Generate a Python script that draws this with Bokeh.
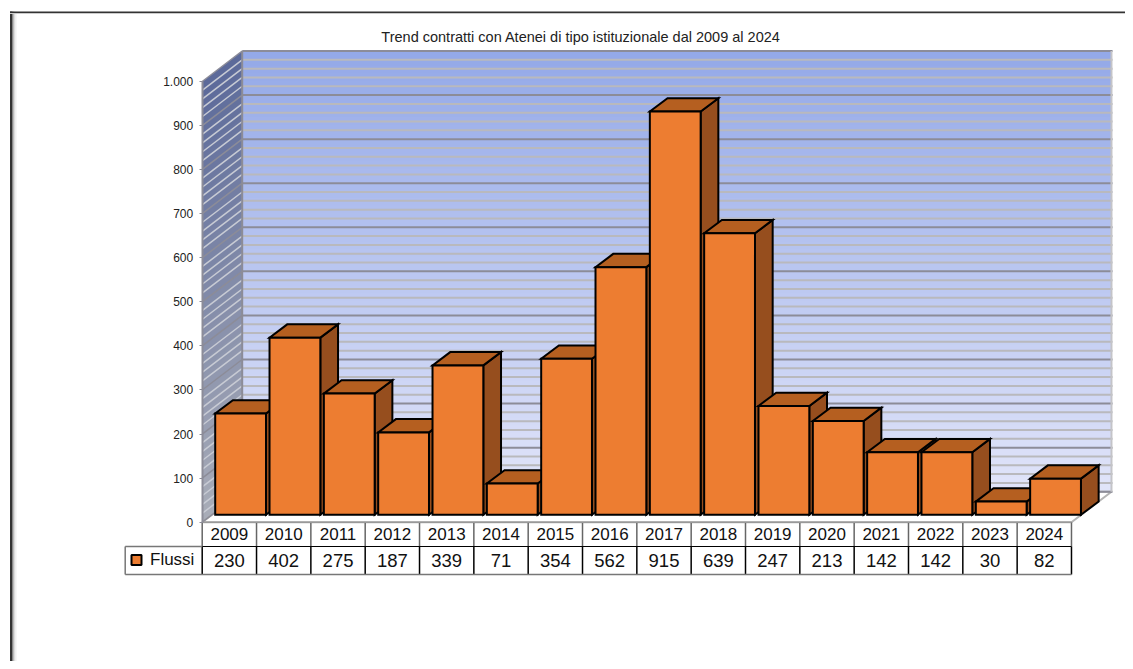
from bokeh.plotting import figure
from bokeh.models import Range1d, FixedTicker
from bokeh.core.properties import value
from bokeh.embed import file_html
from bokeh.resources import INLINE

TITLE = "Trend contratti con Atenei di tipo istituzionale dal 2009 al 2024"
YEARS = ["2009", "2010", "2011", "2012", "2013", "2014", "2015", "2016",
         "2017", "2018", "2019", "2020", "2021", "2022", "2023", "2024"]
FLUSSI = [230, 402, 275, 187, 339, 71, 354, 562, 915, 639, 247, 213, 142, 142, 30, 82]
SERIES_NAME = "Flussi"
Y_TICKS = [0, 100, 200, 300, 400, 500, 600, 700, 800, 900, 1000]
Y_LABELS = {0: "0", 100: "100", 200: "200", 300: "300", 400: "400", 500: "500",
            600: "600", 700: "700", 800: "800", 900: "900", 1000: "1.000"}
FONT = "Liberation Sans"

# pixel scale of the chart
X0, UX = 201.7, 54.33      # px of category 0, px per category
Y0, UY = 521.7, 0.4407     # px of value 0, px per value
W, H = 1125, 661


def rx(px):
    return (px - X0) / UX


def ry(py):
    return (Y0 - py) / UY


WALL_DX, WALL_DY = 40 / UX, 30.5 / UY
BAR_X, BAR_W = 13 / UX, 50.8 / UX
BAR_BASE = 7.4 / UY
BAR_DX, BAR_DY = 17.7 / UX, 13.3 / UY
N = len(YEARS)
YMAX = 1000


def mix(a, b, t):
    return "#%02x%02x%02x" % tuple(round(a[k] + (b[k] - a[k]) * t) for k in range(3))


p = figure(width=W, height=H, output_backend="svg", toolbar_location=None,
           x_range=Range1d(rx(0), rx(W)), y_range=Range1d(ry(H), ry(0)),
           min_border=0, min_border_left=0, min_border_right=0,
           min_border_top=0, min_border_bottom=0,
           background_fill_color="white", outline_line_color=None)
p.grid.visible = False
p.xaxis.visible = False

# page frame
for left, right, col in [(9.5, 11.5, "#333333"), (11.5, 12.5, "#888888"), (12.5, 13.5, "#bbbbbb"),
                         (13.5, 14.5, "#dddddd"), (14.5, 16, "#f0f0f0")]:
    p.quad(left=rx(left), right=rx(right), top=ry(11), bottom=ry(H), color=col, line_color=None)
for top, bottom, col in [(11, 12.5, "#333333"), (12.5, 13.5, "#cccccc")]:
    p.quad(left=rx(9.5), right=rx(W), top=ry(top), bottom=ry(bottom), color=col, line_color=None)

# back wall and side wall gradients
BANDS = 60
TOP_B, BOT_B = (0x94, 0xa9, 0xe8), (0xe0, 0xe4, 0xf9)
TOP_S, BOT_S = (0x5c, 0x6a, 0x9a), (0xa8, 0xac, 0xb8)
for k in range(BANDS):
    v0 = YMAX * k / BANDS
    v1 = YMAX * (k + 1.3) / BANDS
    v1 = min(v1, YMAX)
    t = k / (BANDS - 1)
    p.quad(left=WALL_DX, right=N + WALL_DX, bottom=v0 + WALL_DY, top=v1 + WALL_DY,
           color=mix(BOT_B, TOP_B, t), line_color=None)
    p.patch([0, WALL_DX, WALL_DX, 0], [v0, v0 + WALL_DY, v1 + WALL_DY, v1],
            color=mix(BOT_S, TOP_S, t), line_color=None)

# floor
p.patch([0, N, N + WALL_DX, WALL_DX], [0, 0, WALL_DY, WALL_DY],
        fill_color="white", line_color="#b4b4b4", line_width=2)

# grid lines
for v in range(0, YMAX + 1, 20):
    major = v % 100 == 0
    p.line([WALL_DX, N + WALL_DX + 0.02], [v + WALL_DY, v + WALL_DY],
           line_color="#8c8c98" if major else "#b9b9bd", line_width=2)
    p.line([0, WALL_DX], [v, v + WALL_DY],
           line_color="#8c8c98" if major else "#c8cbd4", line_width=1.5)

# wall edges
p.line([WALL_DX, WALL_DX], [WALL_DY, YMAX + WALL_DY], line_color="#8c8c98", line_width=2)
p.line([N + WALL_DX, N + WALL_DX], [WALL_DY, YMAX + WALL_DY], line_color="#c4c4c8", line_width=2)

# bars
xs, ys, fills = [], [], []
for i, val in enumerate(FLUSSI):
    l, r = i + BAR_X, i + BAR_X + BAR_W
    b, t = BAR_BASE, BAR_BASE + val
    xs.append([r, r + BAR_DX, r + BAR_DX, r])
    ys.append([b, b + BAR_DY, t + BAR_DY, t])
    fills.append("#964e1e")
    xs.append([l, r, r + BAR_DX, l + BAR_DX])
    ys.append([t, t, t + BAR_DY, t + BAR_DY])
    fills.append("#b55f20")
    xs.append([l, r, r, l])
    ys.append([b, b, t, t])
    fills.append("#ed7d31")
p.patches(xs, ys, fill_color=fills, line_color="black", line_width=2, line_join="miter")

# y axis
ax = p.yaxis[0]
ax.fixed_location = 0
ax.bounds = (0, YMAX)
ax.ticker = FixedTicker(ticks=Y_TICKS)
ax.major_label_overrides = Y_LABELS
ax.major_label_text_font = FONT
ax.major_label_text_font_size = "12px"
ax.major_label_text_color = "#222222"
ax.major_label_standoff = 6
ax.major_tick_in = 0
ax.major_tick_out = 3
ax.minor_tick_in = 0
ax.minor_tick_out = 0
ax.major_tick_line_color = "#8c8c98"
ax.axis_line_color = "#8c8c98"
ax.axis_line_width = 2

# title
p.text([rx(580.5)], [ry(36)], text=[TITLE], text_font=value(FONT), text_font_size="14.5px",
       text_align="center", text_baseline="middle", text_color="#222222")

# data table
ROW0, ROW1, ROW2 = 0, ry(546), ry(574)
p.quad(left=rx(124.7), right=0, top=ROW1, bottom=ROW2, fill_color="white", line_color=None)
for i in range(N + 1):
    p.line([i, i], [ROW0, ROW1], line_color="#666666", line_width=1.5)
    p.line([i, i], [ROW1, ROW2], line_color="black", line_width=1.5)
p.line([0, N], [ROW1, ROW1], line_color="black", line_width=1.2)
p.line([0, N], [ROW0, ROW0], line_color="#999999", line_width=1.5)
p.line([0, N], [ROW2, ROW2], line_color="#777777", line_width=1.5)
p.line([rx(124.7), 0], [ROW1, ROW1], line_color="#777777", line_width=1.5)
p.line([rx(124.7), 0], [ROW2, ROW2], line_color="#777777", line_width=1.5)
p.line([rx(124.7), rx(124.7)], [ROW1, ROW2], line_color="#777777", line_width=1.5)
centers = [i + 0.5 for i in range(N)]
p.text(centers, [(ROW0 + ROW1) / 2] * N, text=YEARS, text_font=value(FONT), text_font_size="17px",
       text_align="center", text_baseline="middle", text_color="#111111")
p.text(centers, [(ROW1 + ROW2) / 2] * N, text=[str(v) for v in FLUSSI], text_font=value(FONT),
       text_font_size="18.5px", text_align="center", text_baseline="middle", text_color="#111111")
p.text([rx(149.5)], [(ROW1 + ROW2) / 2 + 1 / UY], text=[SERIES_NAME], text_font=value(FONT),
       text_font_size="17px", text_align="left", text_baseline="middle", text_color="#111111")
p.quad(left=rx(131), right=rx(141), top=ry(554.5), bottom=ry(564.5), fill_color="#ed7d31",
       line_color="black", line_width=2)

open("out.html", "w").write(file_html(p, INLINE))
